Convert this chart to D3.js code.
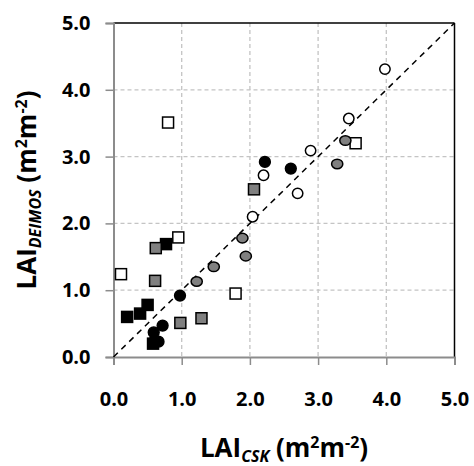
<!DOCTYPE html>
<html>
<head>
<meta charset="utf-8">
<script src="https://cdn.jsdelivr.net/npm/d3@7"></script>
<style>
  body { margin: 0; background: #fff; }
  text { font-family: "Open Sans", "DejaVu Sans", sans-serif; font-weight: 700; fill: #000; }
</style>
</head>
<body>
<svg id="chart" width="474" height="466"></svg>
<script>
// LAI CSK (x) vs LAI DEIMOS (y)
var tickVals = [0, 1, 2, 3, 4, 5];
var tickLabels = ["0.0", "1.0", "2.0", "3.0", "4.0", "5.0"];

var whiteSquares = [[0.80, 3.51], [0.95, 1.79], [0.11, 1.24], [1.79, 0.95], [3.55, 3.20]];
var graySquares = [[2.06, 2.51], [0.62, 1.63], [0.61, 1.14], [0.98, 0.51], [1.29, 0.58]];
var blackSquares = [[0.77, 1.69], [0.20, 0.60], [0.39, 0.65], [0.50, 0.78], [0.58, 0.20]];
var whiteCircles = [[3.98, 4.31], [3.45, 3.57], [2.89, 3.09], [2.20, 2.72], [2.70, 2.45], [2.04, 2.10]];
var grayCircles = [[3.40, 3.24], [3.28, 2.89], [1.89, 1.78], [1.94, 1.51], [1.47, 1.35], [1.22, 1.13]];
var blackCircles = [[2.22, 2.92], [2.60, 2.82], [0.975, 0.92], [0.72, 0.47], [0.59, 0.37], [0.66, 0.23], [0.60, 0.24]];

(function () {
var svg = d3.select("#chart");
var pl = 113.5, pr = 454.5, pt = 23, pb = 357;

var x = d3.scaleLinear().domain([0, 5]).range([pl, pr]);
var y = d3.scaleLinear().domain([0, 5]).range([pb, pt]);

// grid
var grid = svg.append("g");
grid.selectAll("line.gx").data(tickVals.slice(1, 5)).enter().append("line")
	.attr("x1", function (d) { return x(d); }).attr("x2", function (d) { return x(d); })
	.attr("y1", pt).attr("y2", pb)
	.attr("stroke", "#c4c4c4").attr("stroke-width", 1.3).attr("stroke-dasharray", "4,3");
grid.selectAll("line.gy").data(tickVals.slice(1, 5)).enter().append("line")
	.attr("y1", function (d) { return y(d); }).attr("y2", function (d) { return y(d); })
	.attr("x1", pl).attr("x2", pr)
	.attr("stroke", "#c4c4c4").attr("stroke-width", 1.3).attr("stroke-dasharray", "4,3");

// frame: top and right black
svg.append("line").attr("x1", pl).attr("x2", pr).attr("y1", pt).attr("y2", pt)
	.attr("stroke", "#000").attr("stroke-width", 1.5);
svg.append("line").attr("x1", pr).attr("x2", pr).attr("y1", pt).attr("y2", pb)
	.attr("stroke", "#000").attr("stroke-width", 1.5);

// axes
var xAxis = svg.append("g").attr("transform", "translate(0," + pb + ")")
	.call(d3.axisBottom(x).tickValues(tickVals).tickFormat(function (d, i) { return tickLabels[i]; }).tickSize(8).tickPadding(27));
var yAxis = svg.append("g").attr("transform", "translate(" + pl + ",0)")
	.call(d3.axisLeft(y).tickValues(tickVals).tickFormat(function (d, i) { return tickLabels[i]; }).tickSize(8).tickPadding(15));
[xAxis, yAxis].forEach(function (a) {
	a.select(".domain").attr("stroke", "#8c8c8c").attr("stroke-width", 2);
	a.selectAll(".tick line").attr("stroke", "#8c8c8c").attr("stroke-width", 1.5);
	a.selectAll(".tick text").style("font-size", "20px").style("font-weight", 700).attr("fill", "#000");
});

// 1:1 line
svg.append("line")
	.attr("x1", x(0)).attr("y1", y(0)).attr("x2", x(5)).attr("y2", y(5))
	.attr("stroke", "#000").attr("stroke-width", 1.5).attr("stroke-dasharray", "6,5");

function squares(data, fill) {
	svg.append("g").selectAll("rect").data(data).enter().append("rect")
		.attr("x", function (d) { return x(d[0]) - 5.5; })
		.attr("y", function (d) { return y(d[1]) - 5.5; })
		.attr("width", 11).attr("height", 11)
		.attr("fill", fill).attr("stroke", "#000").attr("stroke-width", 1.5);
}
function circles(data, fill, rx, ry) {
	svg.append("g").selectAll("ellipse").data(data).enter().append("ellipse")
		.attr("cx", function (d) { return x(d[0]); })
		.attr("cy", function (d) { return y(d[1]); })
		.attr("rx", rx).attr("ry", ry)
		.attr("fill", fill).attr("stroke", "#000").attr("stroke-width", 1.5);
}

squares(blackSquares, "#000");
squares(graySquares, "#808080");
squares(whiteSquares, "#fff");
circles(grayCircles, "#808080", 5.6, 4.8);
circles(whiteCircles, "#fff", 5.2, 5.2);
circles(blackCircles, "#000", 5.4, 5.4);

// axis titles
function title(sel, sub) {
	sel.style("font-size", "26px");
	sel.append("tspan").text("LAI");
	sel.append("tspan").style("font-size", "16px").style("font-style", "italic").attr("dy", 5).text(sub);
	sel.append("tspan").attr("dy", -5).text(" (m");
	sel.append("tspan").style("font-size", "16px").attr("dy", -9).text("2");
	sel.append("tspan").attr("dy", 9).text("m");
	sel.append("tspan").style("font-size", "16px").attr("dy", -9).text("-2");
	sel.append("tspan").attr("dy", 9).text(")");
}
title(svg.append("text").attr("x", 284).attr("y", 457).attr("text-anchor", "middle"), "CSK");
title(svg.append("text").attr("transform", "translate(36,190) rotate(-90)").attr("text-anchor", "middle"), "DEIMOS");
})();
</script>
</body>
</html>
